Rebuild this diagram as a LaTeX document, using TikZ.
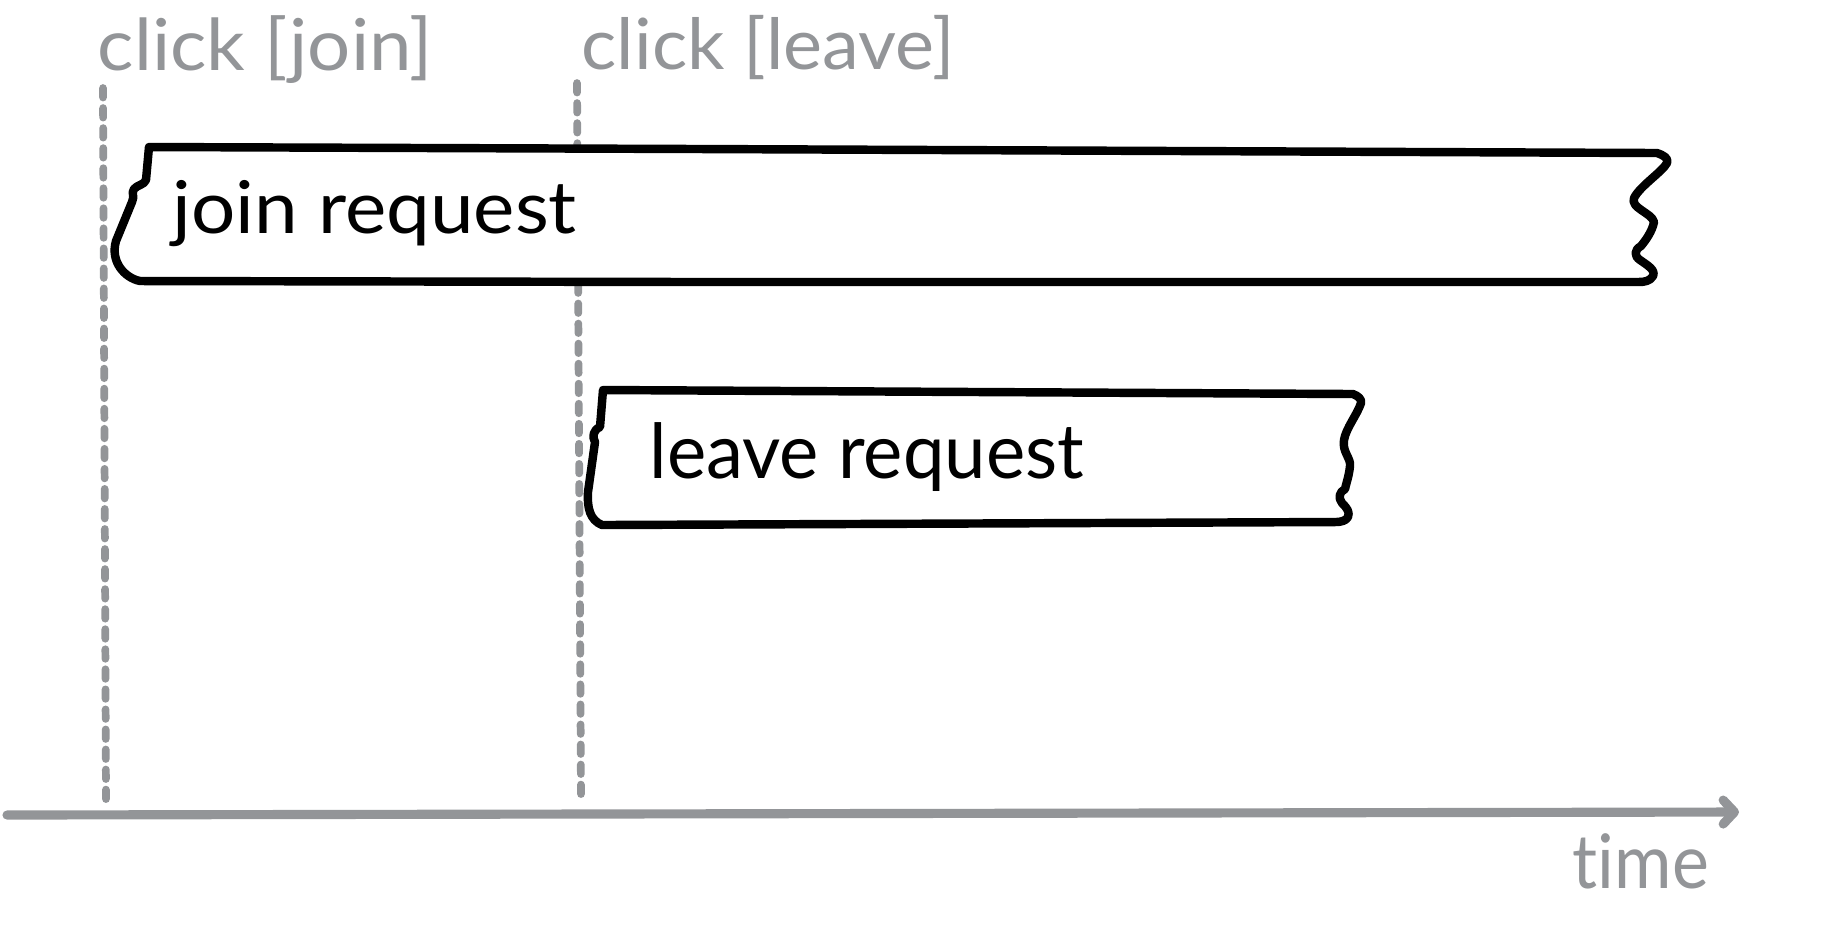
\documentclass[tikz,border=0pt]{standalone}
\usepackage{fontspec}
\setmainfont{Lato}[Ligatures=NoCommon]
\usepackage{graphicx}
\usetikzlibrary{arrows.meta}
\definecolor{axisgray}{RGB}{147,149,152}
\tikzset{
  boxline/.style={draw=black, line width=2.4pt, line join=round, line cap=round, fill=white},
  guide/.style={draw=axisgray, line width=2.2pt, line cap=round, dash pattern=on 2.7pt off 3pt},
  axisline/.style={draw=axisgray, line width=2.6pt, line cap=round, -{Straight Barb[length=3.2pt,width=6.8pt,round]}},
  graylabel/.style={text=axisgray, anchor=base west, inner sep=0pt},
  blacklabel/.style={text=black, anchor=base west, inner sep=0pt},
}
\begin{document}
\begin{tikzpicture}[x=0.01cm,y=-0.01cm]
\useasboundingbox (0,0) rectangle (1843,947);
% guide lines
\coordinate (g1top) at (103,88);
\coordinate (g1bot) at (106,803);
\coordinate (g2top) at (577,83);
\coordinate (g2bot) at (581,797);
\draw[guide] (g1top) -- (g1bot);
\draw[guide] (g2top) -- (g2bot);
% time axis
\coordinate (axL) at (7,815);
\coordinate (axR) at (1739,812);
\draw[axisline] (axL) -- (axR);
% join request box
\draw[boxline] (149,147) -- (700,149) -- (1657,153)
  .. controls (1663,155) and (1669,158) .. (1667,163)
  .. controls (1662,172) and (1640,186) .. (1634,198)
  .. controls (1630,208) and (1652,213) .. (1654,222)
  .. controls (1652,232) and (1645,241) .. (1641,246)
  .. controls (1634,250) and (1634,256) .. (1640,260)
  .. controls (1647,265) and (1656,270) .. (1653,276)
  .. controls (1650,281) and (1645,282) .. (1638,282)
  -- (700,282) -- (140,281)
  .. controls (125,278) and (110,262) .. (116,241)
  -- (132,202)
  .. controls (135,196) and (131,193) .. (134,189)
  .. controls (137,185) and (144,185) .. (146,180)
  -- cycle;
% leave request box
\draw[boxline] (603,390) -- (1353,394)
  .. controls (1358,396) and (1362,399) .. (1361,403)
  .. controls (1357,415) and (1346,428) .. (1344,440)
  .. controls (1342,452) and (1351,458) .. (1350,466)
  .. controls (1349,476) and (1346,484) .. (1345,489)
  .. controls (1339,492) and (1338,498) .. (1342,503)
  .. controls (1347,508) and (1350,512) .. (1348,517)
  .. controls (1346,521) and (1340,522) .. (1336,522)
  -- (602,525)
  .. controls (590,520) and (587,508) .. (588,492)
  -- (595,442)
  .. controls (592,437) and (593,430) .. (600,427)
  -- cycle;
% labels
\node[graylabel] (lj) at (97,70) {\resizebox{95.3pt}{15.6pt}{click [join]}};
\node[graylabel] (ll) at (581,69) {\resizebox{106.1pt}{15.4pt}{click [leave]}};
\node[blacklabel] (tj) at (172,233) {\resizebox{114.9pt}{15.1pt}{join request}};
\node[blacklabel] (tl) at (649,478) {\resizebox{123.5pt}{15.9pt}{leave request}};
\node[graylabel] (tt) at (1572,888) {\resizebox{38.7pt}{15.6pt}{time}};
\end{tikzpicture}
\end{document}
